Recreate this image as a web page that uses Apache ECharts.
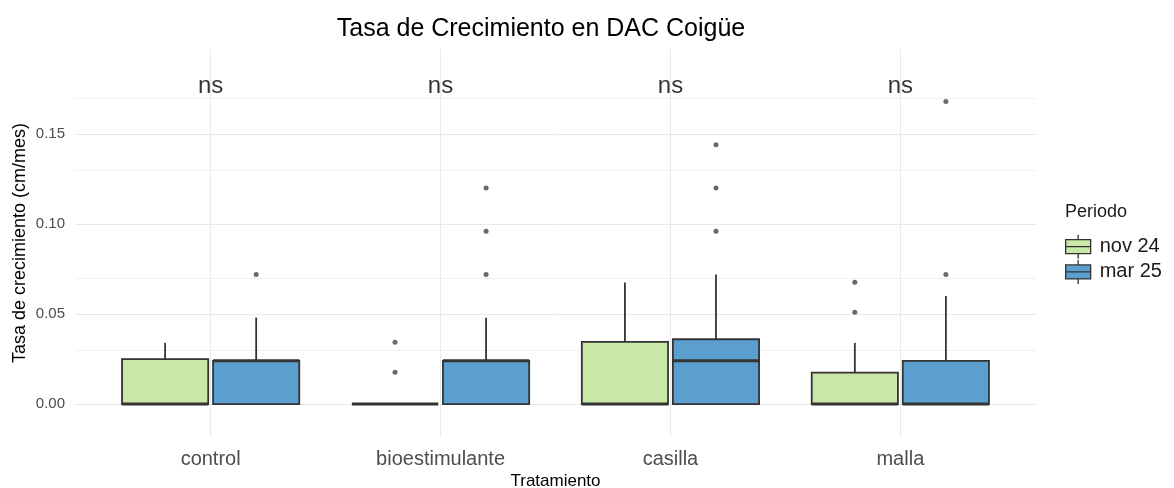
<!DOCTYPE html>
<html>
<head>
<meta charset="utf-8">
<script src="https://cdn.jsdelivr.net/npm/echarts@6/dist/echarts.min.js"></script>
<style>html,body{margin:0;padding:0;background:#fff}#c{width:1174px;height:488px}</style>
</head>
<body>
<div id="c"></div>
<script>
// ---- data ----
const categories = ['control', 'bioestimulante', 'casilla', 'malla'];
const periods = ['nov 24', 'mar 25'];
// per category: [lowerWhisker, Q1, median, Q3, upperWhisker]
const nov24Box = [
  [0, 0, 0, 0.025, 0.034],
  [0, 0, 0, 0, 0],
  [0, 0, 0, 0.0345, 0.0675],
  [0, 0, 0, 0.0174, 0.034]
];
const mar25Box = [
  [0, 0, 0.024, 0.024, 0.048],
  [0, 0, 0.024, 0.024, 0.048],
  [0, 0, 0.024, 0.036, 0.072],
  [0, 0, 0, 0.024, 0.060]
];
// outliers: [categoryIndex, value]
const nov24Outliers = [[1, 0.0176], [1, 0.0343], [3, 0.051], [3, 0.0676]];
const mar25Outliers = [[0, 0.072], [1, 0.072], [1, 0.096], [1, 0.120], [2, 0.096], [2, 0.120], [2, 0.144], [3, 0.072], [3, 0.168]];
const sigLabels = ['ns', 'ns', 'ns', 'ns'];
const sigY = 0.1765;
const yTickLabels = [0, 0.05, 0.10, 0.15];
const yGridValues = [0, 0.025, 0.05, 0.075, 0.10, 0.125, 0.15, 0.175];

// ---- style ----
const FONT = 'Liberation Sans, Arial, sans-serif';
const colors = ['#c9e8a8', '#5b9fcf'];
const offsets = [-0.198, 0.198];
const boxW = 0.375;
const edge = '#333333';

function boxSeries(name, boxes, color, off) {
  return {
    name: name,
    type: 'custom',
    z: 3,
    itemStyle: { color: color, borderColor: edge },
    encode: { x: 0, y: [1, 2, 3, 4, 5] },
    data: boxes.map((b, i) => [i + off, b[0], b[1], b[2], b[3], b[4]]),
    renderItem: function (params, api) {
      const x = api.value(0);
      const lw = api.coord([x, api.value(1)]);
      const q1 = api.coord([x, api.value(2)]);
      const md = api.coord([x, api.value(3)]);
      const q3 = api.coord([x, api.value(4)]);
      const uw = api.coord([x, api.value(5)]);
      const hw = api.size([boxW, 0])[0] / 2;
      const cx = q1[0];
      return {
        type: 'group',
        children: [
          { type: 'line', shape: { x1: cx, y1: q3[1], x2: cx, y2: uw[1] }, style: { stroke: edge, lineWidth: 1.8 } },
          { type: 'line', shape: { x1: cx, y1: q1[1], x2: cx, y2: lw[1] }, style: { stroke: edge, lineWidth: 1.8 } },
          { type: 'rect', shape: { x: cx - hw, y: q3[1], width: hw * 2, height: q1[1] - q3[1] }, style: { fill: color, stroke: edge, lineWidth: 1.8 } },
          { type: 'line', shape: { x1: cx - hw, y1: md[1], x2: cx + hw, y2: md[1] }, style: { stroke: edge, lineWidth: 3 } }
        ]
      };
    }
  };
}

function outlierSeries(name, pts, off) {
  return {
    name: name,
    type: 'scatter',
    z: 4,
    symbol: 'circle',
    symbolSize: 5,
    itemStyle: { color: '#444444' },
    data: pts.map(p => [p[0] + off, p[1]]),
    silent: true
  };
}

const legendIcon = 'path://M12.5,0 L12.5,5 M0,5 L25,5 L25,19 L0,19 Z M0,12 L25,12 M12.5,19 L12.5,24';

const chart = echarts.init(document.getElementById('c'), null, { renderer: 'canvas' });
chart.setOption({
  backgroundColor: '#ffffff',
  animation: false,
  textStyle: { fontFamily: FONT },
  title: {
    text: 'Tasa de Crecimiento en DAC Coigüe',
    left: 536, top: 12, textAlign: 'center',
    textStyle: { fontFamily: FONT, fontSize: 25, fontWeight: 'normal', color: '#000000' }
  },
  graphic: [{
    type: 'text', left: 1065, top: 203,
    style: { text: 'Periodo', font: '18px ' + FONT, fill: '#1a1a1a' }
  }],
  legend: {
    orient: 'vertical', left: 1060, top: 229,
    itemWidth: 25, itemHeight: 24, itemGap: 0,
    textStyle: { fontFamily: FONT, fontSize: 20, color: '#1a1a1a', padding: [0, 0, 0, 4] },
    data: periods.map((p, i) => ({
      name: p, icon: legendIcon,
      itemStyle: { color: colors[i], borderColor: edge, borderWidth: 1.3 }
    }))
  },
  grid: { left: 75, right: 138, top: 49, bottom: 51, outerBoundsMode: 'none', containLabel: false },
  xAxis: {
    type: 'value', min: -0.59, max: 3.59,
    name: 'Tratamiento', nameLocation: 'middle', nameGap: 36, nameMoveOverlap: false,
    nameTextStyle: { fontFamily: FONT, fontSize: 17, color: '#000000' },
    axisLine: { show: false }, axisTick: { show: false }, splitLine: { show: false },
    axisLabel: {
      customValues: [0, 1, 2, 3],
      formatter: v => categories[Math.round(v)],
      fontFamily: FONT, fontSize: 20, color: '#4d4d4d', margin: 12
    }
  },
  yAxis: {
    type: 'value', min: -0.0183, max: 0.1972,
    name: 'Tasa de crecimiento (cm/mes)', nameLocation: 'middle', nameGap: 46, nameMoveOverlap: false,
    nameTextStyle: { fontFamily: FONT, fontSize: 18, color: '#000000' },
    axisLine: { show: false }, axisTick: { show: false }, splitLine: { show: false },
    axisLabel: {
      customValues: yTickLabels,
      formatter: v => v.toFixed(2),
      fontFamily: FONT, fontSize: 15, color: '#4d4d4d', margin: 10
    }
  },
  series: [
    {
      name: 'grid', type: 'line', data: [], z: 0, silent: true,
      markLine: {
        silent: true, symbol: 'none', animation: false, z: 0,
        label: { show: false },
        data: yGridValues.map((v, i) => ({ yAxis: v, lineStyle: { color: i % 2 ? '#f0f0f0' : '#e9e9e9', width: 1, type: 'solid' } }))
          .concat(categories.map((c, i) => ({ xAxis: i, lineStyle: { color: '#e9e9e9', width: 1, type: 'solid' } })))
      }
    },
    boxSeries(periods[0], nov24Box, colors[0], offsets[0]),
    boxSeries(periods[1], mar25Box, colors[1], offsets[1]),
    outlierSeries('out1', nov24Outliers, offsets[0]),
    outlierSeries('out2', mar25Outliers, offsets[1]),
    {
      name: 'sig', type: 'scatter', z: 5, silent: true,
      symbolSize: 1, itemStyle: { color: 'rgba(0,0,0,0)' },
      data: sigLabels.map((s, i) => [i, sigY]),
      label: {
        show: true, position: 'inside',
        formatter: p => sigLabels[p.dataIndex],
        fontFamily: FONT, fontSize: 24, color: '#000000'
      }
    }
  ]
});
</script>
</body>
</html>
